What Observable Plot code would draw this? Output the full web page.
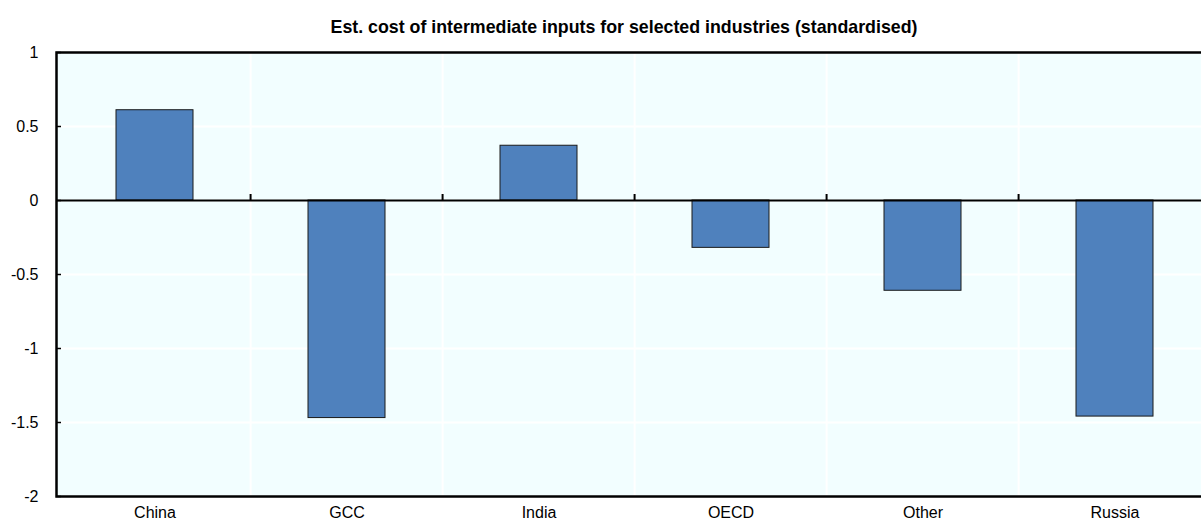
<!DOCTYPE html>
<html>
<head>
<meta charset="utf-8">
<script src="https://cdn.jsdelivr.net/npm/d3@7"></script>
<script src="https://cdn.jsdelivr.net/npm/@observablehq/plot@0.6"></script>
<style>
  html, body { margin: 0; padding: 0; background: #fff; overflow: hidden; width: 1201px; height: 522px; }
  #title { position: absolute; left: 0; top: 0; width: 1248px; height: 40px; text-align: center;
    font-family: "Liberation Sans", Arial, sans-serif;
    font-weight: bold; font-size: 17.8px; line-height: 54px; color: #000; white-space: nowrap; }
  #chart { position: absolute; left: 0; top: 40px; width: 1214px; }
  #chart svg { max-width: none !important; }
</style>
</head>
<body>
<div id="title">Est. cost of intermediate inputs for selected industries (standardised)</div>
<div id="chart"></div>
<script>
const categories = ["China", "GCC", "India", "OECD", "Other", "Russia"];
const values = [0.61, -1.47, 0.37, -0.32, -0.61, -1.46];
const yTicks = [-2, -1.5, -1, -0.5, 0, 0.5, 1];
const yTickLabels = ["-2", "-1.5", "-1", "-0.5", "0", "0.5", "1"];

const data = categories.map((c, i) => ({category: c, value: values[i]}));
const boundaries = categories.slice(1).map(c => ({category: c, zero: 0}));

const font = '"Liberation Sans", Arial, sans-serif';
const step = (1213 - 56) / categories.length;

const plot = Plot.plot({
  width: 1214,
  height: 482,
  marginLeft: 56,
  marginRight: 1,
  marginTop: 12,
  marginBottom: 26,
  style: {fontFamily: font, fontSize: "16px", color: "#000", background: "transparent", overflow: "hidden", maxWidth: "none"},
  x: {domain: categories, paddingInner: 0.6, paddingOuter: 0.3, label: null},
  y: {domain: [-2, 1], ticks: yTicks, label: null},
  marks: [
    Plot.frame({fill: "#F2FEFF", stroke: null}),
    Plot.gridY(yTicks, {stroke: "#fff", strokeOpacity: 1, strokeWidth: 2}),
    Plot.ruleX(boundaries, {x: "category", dx: -step / 2, stroke: "#fff", strokeOpacity: 1, strokeWidth: 2}),
    Plot.barY(data, {x: "category", y: "value", fill: "#4F81BD", stroke: "#1a1a1a", strokeWidth: 1}),
    Plot.ruleY([0], {stroke: "#000", strokeWidth: 2}),
    Plot.ruleX(boundaries, {x: "category", y1: "zero", y2: "zero", insetTop: -6, dx: -step / 2, stroke: "#000", strokeWidth: 2}),
    Plot.axisY(yTicks, {tickSize: 5, dx: 5, tickFormat: () => "", stroke: "#000", strokeWidth: 1.5}),
    Plot.axisY(yTicks, {tickSize: 0, tickPadding: 18, tickFormat: (d) => yTickLabels[yTicks.indexOf(d)], fontSize: 16, fill: "#000"}),
    Plot.axisX({tickSize: 0, tickPadding: 10, fontSize: 16, fill: "#000"}),
    Plot.frame({stroke: "#000", strokeWidth: 2.5})
  ]
});
document.getElementById("chart").appendChild(plot);
</script>
</body>
</html>
